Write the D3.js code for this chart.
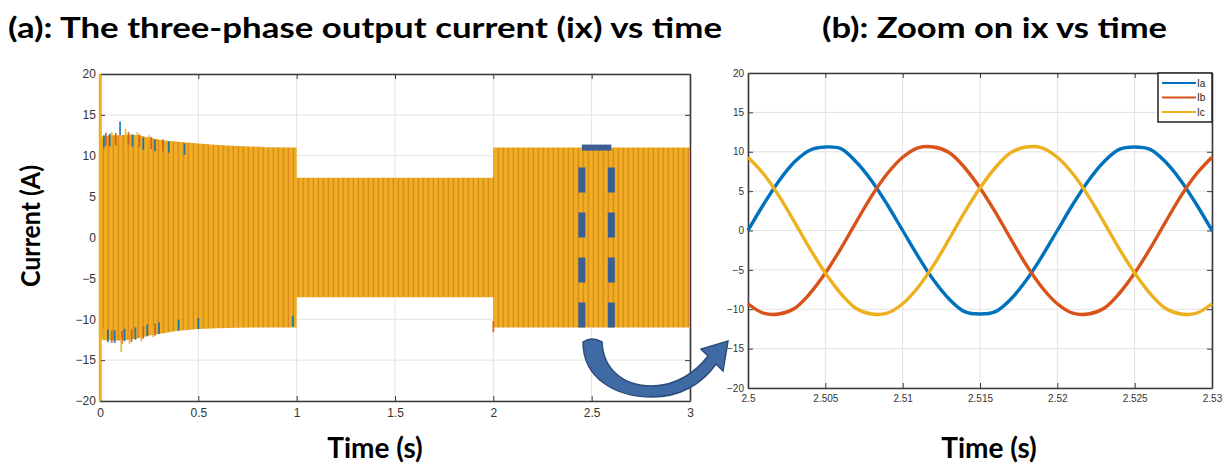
<!DOCTYPE html>
<html>
<head>
<meta charset="utf-8">
<script src="https://cdn.jsdelivr.net/npm/d3@7"></script>
<style>
	body { margin: 0; background: #fff; }
	svg { display: block; }
	.tick text { font-family: 'Liberation Sans', Arial, sans-serif; fill: #333; }
	.big { font-family: Lato, 'Open Sans', sans-serif; font-weight: 700; fill: #000; }
</style>
</head>
<body>
<script>

// ---- panel (a): envelope of the 3 s run (A)
const envT  = [0, 0.02, 0.05, 0.1, 0.15, 0.2, 0.25, 0.3, 0.35, 0.4, 0.5, 0.6, 0.7, 0.85, 1.0, 1.0, 2.0, 2.0, 3.0];
const envHi = [12.2, 12.4, 12.5, 12.5, 12.6, 12.5, 12.2, 12.0, 11.8, 11.7, 11.5, 11.3, 11.2, 11.05, 11.0, 7.3, 7.3, 11.0, 11.0];
const envLo = [-12.4, -12.5, -12.6, -12.6, -12.5, -12.3, -12.0, -11.8, -11.6, -11.4, -11.2, -11.1, -11.05, -11.0, -11.0, -7.3, -7.3, -11.0, -11.0];

// start-up peaks that stick out of the band [time, value]
const peaksA = [[0.02, 12.5], [0.05, 12.7], [0.102, 14.2], [0.165, 12.6], [0.22, 12.2], [0.28, 12.0], [0.35, 11.8], [0.43, 11.5],
	[0.04, -12.8], [0.075, -12.9], [0.125, -12.7], [0.18, -12.5], [0.24, -12.1], [0.3, -11.8], [0.4, -11.4], [0.5, -11.2], [0.98, -10.9]];
const peaksB = [[0.03, 12.8], [0.08, 12.8], [0.145, 12.9], [0.2, 12.6], [0.26, 12.3], [0.32, 12.0],
	[0.06, -12.9], [0.112, -13.0], [0.16, -12.8], [0.22, -12.4], [0.28, -12.0], [2.0, -11.6]];
const peaksC = [[0.01, 12.4], [0.06, 12.9], [0.13, 13.3], [0.19, 12.9], [0.25, 12.5],
	[0.02, -12.6], [0.108, -14.0], [0.15, -13.0], [0.21, -12.7], [0.27, -12.2]];
const startC = [[0, 20], [0, -20]];

const ticksLX = [0, 0.5, 1, 1.5, 2, 2.5, 3];
const ticksY = [-20, -15, -10, -5, 0, 5, 10, 15, 20];

// zoom window marked on panel (a)
const zoomT = [2.45, 2.6];
const zoomI = [-11.2, 11];

// ---- panel (b): 2.5 .. 2.53 s, one value per ms
const timeR = d3.range(31).map(i => 2.5 + i * 0.001);
const ia = [0, 3.3, 6.3, 8.7, 10.2, 10.6, 10.4, 8.7, 6.3, 3.3, 0, -3.3, -6.3, -8.7, -10.3, -10.6, -10.3, -8.7, -6.3, -3.3, 0, 3.3, 6.3, 8.7, 10.3, 10.6, 10.3, 8.7, 6.3, 3.3, 0];
const ib = [-9.3, -10.5, -10.6, -9.9, -8.0, -5.4, -2.3, 1.1, 4.4, 7.2, 9.3, 10.5, 10.6, 9.9, 8.0, 5.4, 2.3, -1.1, -4.4, -7.2, -9.3, -10.5, -10.6, -9.9, -8.0, -5.4, -2.3, 1.1, 4.4, 7.2, 9.3];
const ic = [9.3, 7.2, 4.4, 1.1, -2.3, -5.4, -8.0, -9.9, -10.6, -10.5, -9.3, -7.2, -4.4, -1.1, 2.3, 5.4, 8.0, 9.9, 10.6, 10.5, 9.3, 7.2, 4.4, 1.1, -2.3, -5.4, -8.0, -9.9, -10.6, -10.5, -9.3];
const ticksRX = [2.5, 2.505, 2.51, 2.515, 2.52, 2.525, 2.53];
const names = ['Ia', 'Ib', 'Ic'];
const colors = ['#0072BD', '#D95319', '#EDB120'];

const width = 1228;
const height = 466;

const svg = d3.select('body')
	.append('svg')
	.attr('width', width)
	.attr('height', height);

// stripes used inside the dense band
const pat = svg.append('defs')
	.append('pattern')
	.attr('id', 'stripes')
	.attr('patternUnits', 'userSpaceOnUse')
	.attr('width', 5)
	.attr('height', 10);
[['#ECB021', 0, 2], ['#E7A01F', 2, 1], ['#E2881E', 3, 1], ['#EAAA22', 4, 1]].forEach(s => {
	pat.append('rect').attr('x', s[1]).attr('y', 0).attr('width', s[2]).attr('height', 10).attr('fill', s[0]);
});

function frame(g, x, y, xTicks, fmt, fontSize) {
	const [x0, x1] = x.range();
	const [y0, y1] = y.range();

	g.append('g')
		.selectAll('line.gx')
		.data(xTicks)
		.enter()
		.append('line')
		.attr('x1', d => x(d)).attr('x2', d => x(d))
		.attr('y1', y1).attr('y2', y0)
		.attr('stroke', '#e2e2e2');
	g.append('g')
		.selectAll('line.gy')
		.data(ticksY)
		.enter()
		.append('line')
		.attr('x1', x0).attr('x2', x1)
		.attr('y1', d => y(d)).attr('y2', d => y(d))
		.attr('stroke', '#e2e2e2');

	const ax = [
		[d3.axisBottom(x).tickValues(xTicks).tickFormat(fmt).tickSizeInner(-5).tickSizeOuter(0), 'translate(0,' + y0 + ')'],
		[d3.axisTop(x).tickValues(xTicks).tickFormat('').tickSizeInner(-5).tickSizeOuter(0), 'translate(0,' + y1 + ')'],
		[d3.axisLeft(y).tickValues(ticksY).tickSizeInner(-5).tickSizeOuter(0), 'translate(' + x0 + ',0)'],
		[d3.axisRight(y).tickValues(ticksY).tickFormat('').tickSizeInner(-5).tickSizeOuter(0), 'translate(' + x1 + ',0)']
	];
	ax.forEach((a, i) => {
		const s = g.append('g').attr('transform', a[1]).call(a[0]);
		s.select('.domain').attr('stroke', '#3a3a3a').attr('stroke-width', 1.6);
		s.selectAll('.tick line').attr('stroke', '#3a3a3a');
		s.selectAll('.tick text').style('font-size', fontSize + 'px');
		if (i === 0) s.selectAll('.tick text').attr('dy', '1.05em');
		if (i === 2) s.selectAll('.tick text').attr('dx', '-0.1em');
	});
}

// ---------- panel (a)
const xL = d3.scaleLinear().domain([0, 3]).range([100, 690]);
const yL = d3.scaleLinear().domain([-20, 20]).range([401, 74]);
const gA = svg.append('g');

frame(gA, xL, yL, ticksLX, d3.format('~g'), 12);

const band = d3.area()
	.x(i => xL(envT[i]))
	.y0(i => yL(envLo[i]))
	.y1(i => yL(envHi[i]));

gA.append('path')
	.datum(d3.range(envT.length))
	.attr('d', band)
	.attr('fill', 'url(#stripes)');

[peaksA, peaksB, peaksC].forEach((pk, k) => {
	gA.append('g')
		.selectAll('line')
		.data(pk)
		.enter()
		.append('line')
		.attr('x1', d => xL(d[0])).attr('x2', d => xL(d[0]))
		.attr('y1', d => yL(d[1] * 0.88)).attr('y2', d => yL(d[1]))
		.attr('stroke', colors[k])
		.attr('stroke-width', 1.8)
		.attr('opacity', 0.85);
});

gA.append('path')
	.datum(startC)
	.attr('d', d3.line().x(d => xL(d[0])).y(d => yL(d[1])))
	.attr('stroke', colors[2])
	.attr('stroke-width', 2.5);

// dashed zoom marker
const zx0 = xL(zoomT[0]), zx1 = xL(zoomT[1]);
const zyT = yL(zoomI[1]), zyB = yL(zoomI[0]);
gA.append('line')
	.attr('x1', zx0).attr('x2', zx1)
	.attr('y1', zyT).attr('y2', zyT)
	.attr('stroke', '#3b5f92').attr('stroke-width', 6);
[zx0, zx1].forEach(x => {
	gA.append('line')
		.attr('x1', x).attr('x2', x)
		.attr('y1', zyT).attr('y2', zyB)
		.attr('stroke', '#3b5f92').attr('stroke-width', 7)
		.attr('stroke-dasharray', '25 20')
		.attr('stroke-dashoffset', 25);
});

// curved arrow from (a) to (b)
svg.append('path')
	.attr('d', 'M583,342 C583,378 615,397 652,397 C680,397 702,384 716,364 L723,371 L728,341 L701,349 L708,356 ' +
		'C696,372 676,386 652,386 C622,386 603,368 602,342 Q592,336 583,342 Z')
	.attr('fill', '#3f6aa4')
	.attr('stroke', '#2b4c7c')
	.attr('stroke-width', 1.5);

// ---------- panel (b)
const xR = d3.scaleLinear().domain([2.5, 2.53]).range([748, 1212]);
const yR = d3.scaleLinear().domain([-20, 20]).range([388, 73]);
const gB = svg.append('g');

frame(gB, xR, yR, ticksRX, d3.format('~g'), 10);

const line = d3.line()
	.x((d, i) => xR(timeR[i]))
	.y(d => yR(d))
	.curve(d3.curveCatmullRom);

[ia, ib, ic].forEach((s, k) => {
	gB.append('path')
		.datum(s)
		.attr('d', line)
		.attr('fill', 'none')
		.attr('stroke', colors[k])
		.attr('stroke-width', 3.4)
		.attr('stroke-linejoin', 'round');
});

// legend
const leg = gB.append('g');
leg.append('rect')
	.attr('x', 1158).attr('y', 73)
	.attr('width', 54).attr('height', 49)
	.attr('fill', '#fff')
	.attr('stroke', '#222')
	.attr('stroke-width', 1.5);
names.forEach((n, k) => {
	const y = 83 + k * 14.5;
	leg.append('line')
		.attr('x1', 1162).attr('x2', 1196)
		.attr('y1', y).attr('y2', y)
		.attr('stroke', colors[k])
		.attr('stroke-width', 2);
	leg.append('text')
		.attr('x', 1197).attr('y', y + 3.5)
		.style('font-family', 'Liberation Sans, Arial, sans-serif')
		.style('font-size', '10px')
		.attr('fill', '#222')
		.text(n);
});

// ---------- titles and axis labels
svg.append('text')
	.attr('class', 'big')
	.attr('x', 8).attr('y', 38)
	.style('font-size', '28px')
	.attr('textLength', 714)
	.attr('lengthAdjust', 'spacingAndGlyphs')
	.text('(a): The three-phase output current (ix) vs time');

svg.append('text')
	.attr('class', 'big')
	.attr('x', 822).attr('y', 38)
	.style('font-size', '28px')
	.attr('textLength', 345)
	.attr('lengthAdjust', 'spacingAndGlyphs')
	.text('(b): Zoom on ix vs time');

svg.append('text')
	.attr('class', 'big')
	.attr('transform', 'translate(40,226) rotate(-90)')
	.attr('text-anchor', 'middle')
	.style('font-size', '27px')
	.attr('textLength', 122)
	.attr('lengthAdjust', 'spacingAndGlyphs')
	.text('Current (A)');

[[375, 'Time (s)'], [989, 'Time (s)']].forEach(t => {
	svg.append('text')
		.attr('class', 'big')
		.attr('x', t[0]).attr('y', 458)
		.attr('text-anchor', 'middle')
		.style('font-size', '28px')
		.text(t[1]);
});

</script>
</body>
</html>
